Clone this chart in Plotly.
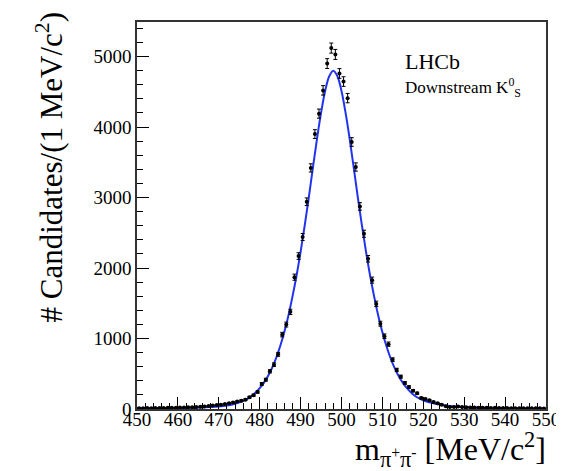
import numpy as np
import plotly.graph_objects as go

# Bin centres (1 MeV/c^2 bins from 450 to 550)
bin_centres = np.arange(450.5, 550.0, 1.0)

# Candidates per bin
counts = [
    12, 10, 14, 11, 13, 15, 14, 16, 18, 17,
    20, 21, 24, 26, 28, 33, 37, 42, 48, 55,
    62, 70, 80, 92, 105, 118, 132, 166, 195, 241,
    355, 416, 535, 629, 775, 1055, 1198, 1378, 1870, 2170,
    2440, 2940, 3420, 3900, 4190, 4520, 4900, 5120, 5030, 4760,
    4645, 4410, 3788, 3433, 2874, 2486, 2131, 1828, 1491, 1210,
    1033, 920, 700, 554, 459, 369, 312, 260, 223, 156,
    142, 124, 99, 81, 61, 38, 28, 30, 36, 27,
    24, 22, 21, 18, 19, 16, 15, 16, 14, 13,
    14, 12, 11, 12, 10, 11, 9, 10, 9, 8,
]

# Fit curve
fit_x = [450, 455, 460, 463, 466, 468, 470, 472, 474, 476, 477, 478, 479,
         480, 481, 482, 483, 484, 485, 486, 487, 488, 489, 490, 491, 492,
         493, 494, 495, 496, 497, 498, 499, 500, 501, 502, 503, 504, 505,
         506, 507, 508, 509, 510, 511, 512, 513, 514, 515, 516, 517, 518,
         519, 520, 522, 524, 526, 528, 530, 535, 540, 545, 550]
fit_y = [9, 10, 13, 16, 22, 27, 35, 50, 75, 115, 145, 185, 235,
         295, 370, 465, 580, 720, 890, 1090, 1320, 1590, 1890, 2230, 2600, 3000,
         3420, 3830, 4200, 4510, 4720, 4800, 4720, 4510, 4200, 3830, 3420, 3000, 2600,
         2230, 1890, 1590, 1320, 1090, 890, 720, 580, 465, 370, 295, 235, 185,
         150, 125, 88, 62, 45, 34, 27, 17, 12, 10, 8]

x_ticks = [450, 460, 470, 480, 490, 500, 510, 520, 530, 540, 550]
y_ticks = [0, 1000, 2000, 3000, 4000, 5000]

FONT = "Liberation Serif"

fig = go.Figure()

fig.add_trace(go.Scatter(
    x=fit_x, y=fit_y, mode="lines", line=dict(color="#2233ee", width=2, shape="spline"),
    hoverinfo="skip", showlegend=False,
))

fig.add_trace(go.Scatter(
    x=bin_centres, y=counts, mode="markers",
    marker=dict(color="black", size=4),
    error_y=dict(type="sqrt", color="black", thickness=1, width=2),
    showlegend=False,
))

axis_common = dict(
    showline=True, linecolor="#333333", linewidth=1.5, mirror=True,
    showgrid=False, zeroline=False, ticks="inside", tickcolor="black",
    tickwidth=1, ticklen=12,
    tickfont=dict(family=FONT, size=19, color="black"),
)

fig.update_xaxes(
    range=[450, 550], tickvals=x_ticks, ticktext=[str(v) for v in x_ticks],
    minor=dict(dtick=2, ticks="inside", ticklen=6, tickcolor="black", tickwidth=1),
    ticklabelstandoff=-8,
    **axis_common,
)
fig.update_yaxes(
    range=[0, 5490], tickvals=y_ticks, ticktext=[str(v) for v in y_ticks],
    minor=dict(dtick=200, ticks="inside", ticklen=6, tickcolor="black", tickwidth=1),
    **axis_common,
)

fig.add_annotation(
    text="# Candidates/(1 MeV/c<sup>2</sup>)", textangle=-90,
    xref="paper", yref="paper", x=-0.215, y=1.03, xanchor="center", yanchor="top",
    showarrow=False, font=dict(family=FONT, size=31, color="black"),
)
fig.add_annotation(
    text="m<sub>π<sup>+</sup>π<sup>-</sup></sub> [MeV/c<sup>2</sup>]",
    xref="paper", yref="paper", x=1.005, y=-0.104, xanchor="right", yanchor="middle",
    showarrow=False, font=dict(family=FONT, size=32, color="black"),
)
fig.add_annotation(
    text="LHCb", xref="paper", yref="paper", x=0.65, y=0.898,
    xanchor="left", yanchor="middle", showarrow=False,
    font=dict(family=FONT, size=22, color="black"),
)
fig.add_annotation(
    text="Downstream K<sup>0</sup><sub>S</sub>", xref="paper", yref="paper",
    x=0.65, y=0.83, xanchor="left", yanchor="middle", showarrow=False,
    font=dict(family=FONT, size=17, color="black"),
)

fig.update_layout(
    width=564, height=471,
    margin=dict(l=129, r=16, t=14, b=70),
    paper_bgcolor="white", plot_bgcolor="white",
    font=dict(family=FONT, color="black"),
)

fig.write_html("out.html")
